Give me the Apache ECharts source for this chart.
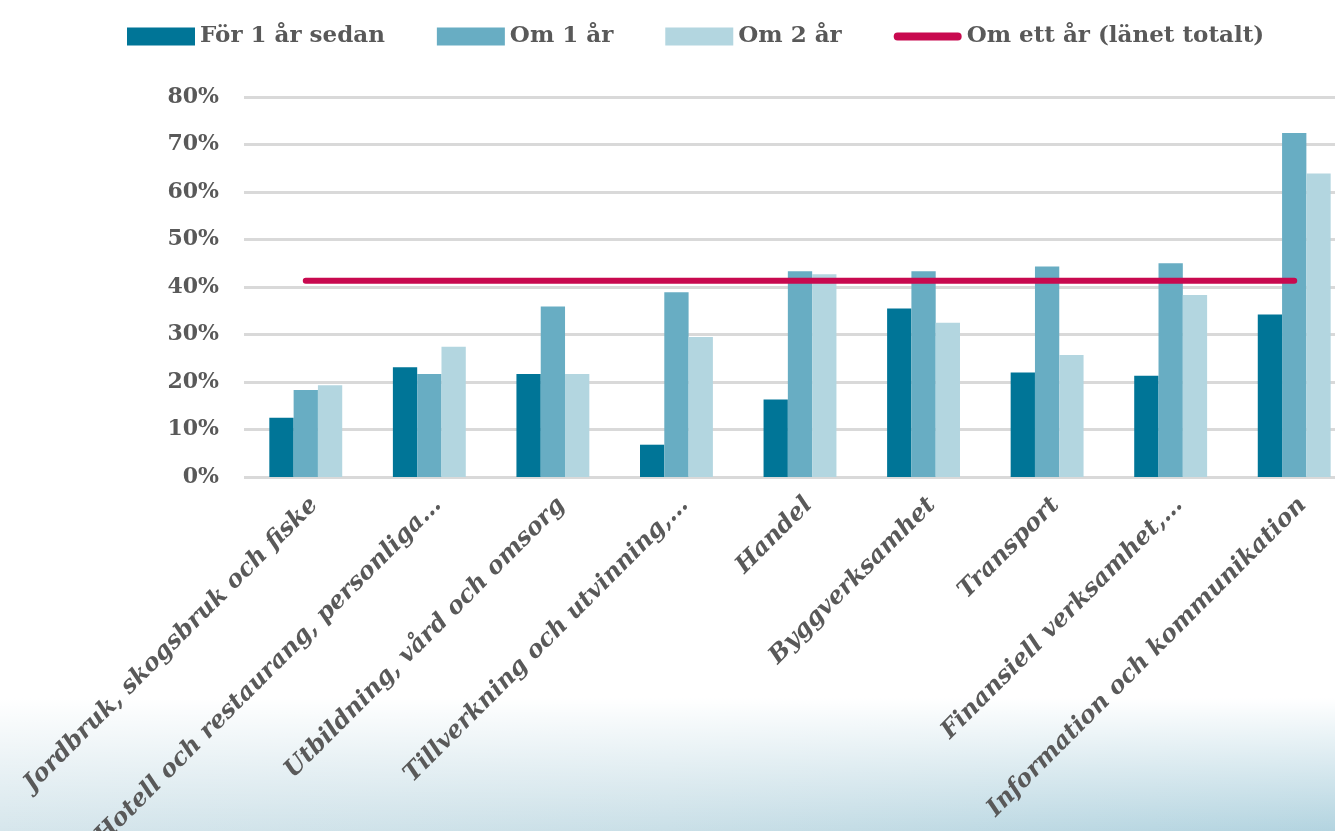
<!DOCTYPE html>
<html>
<head>
<meta charset="utf-8">
<script src="https://cdn.jsdelivr.net/npm/echarts@6/dist/echarts.min.js"></script>
<style>
  html, body { margin: 0; padding: 0; }
  body {
    width: 1335px; height: 831px;
    background:
      linear-gradient(to bottom, rgba(255,255,255,1) 0%, rgba(255,255,255,1) 84%, rgba(255,255,255,0) 100%),
      linear-gradient(to right, #d6e6ec 0%, #c9dfe7 50%, #b3d4e0 100%);
  }
  #main { width: 1335px; height: 831px; }
</style>
</head>
<body>
<div id="main"></div>
<script>
  // branscher
  var categories = [
    'Jordbruk, skogsbruk och fiske',
    'Hotell och restaurang, personliga…',
    'Utbildning, vård och omsorg',
    'Tillverkning och utvinning,…',
    'Handel',
    'Byggverksamhet',
    'Transport',
    'Finansiell verksamhet,…',
    'Information och kommunikation'
  ];
  var forEttArSedan = [12.5, 23.1, 21.7, 6.8, 16.3, 35.5, 22.0, 21.3, 34.2];
  var omEttAr = [18.3, 21.7, 35.9, 38.9, 43.3, 43.3, 44.3, 45.0, 72.4];
  var omTvaAr = [19.3, 27.4, 21.7, 29.5, 42.7, 32.5, 25.7, 38.3, 63.9];
  var lanetTotalt = [41.3, 41.3, 41.3, 41.3, 41.3, 41.3, 41.3, 41.3, 41.3];

  var colors = ['#007597', '#68adc3', '#b3d6e0', '#c8094f'];
  var grey = '#595959';
  var fontSerif = '"DejaVu Serif", "Liberation Serif", serif';

  var chart = echarts.init(document.getElementById('main'));
  var option = {
    backgroundColor: 'transparent',
    animation: false,
    legend: {
      left: 122,
      top: 20,
      itemWidth: 68,
      itemHeight: 18,
      itemGap: 52,
      textStyle: { color: grey, fontSize: 23, fontWeight: 'bold', fontFamily: fontSerif },
      data: [
        { name: 'För 1 år sedan', icon: 'rect' },
        { name: 'Om 1 år', icon: 'rect' },
        { name: 'Om 2 år', icon: 'rect' },
        { name: 'Om ett år (länet totalt)', icon: 'path://M4,0 L66,0 A4,4 0 0 1 66,8 L4,8 A4,4 0 0 1 4,0 Z' }
      ]
    },
    grid: {
      left: 244,
      top: 97,
      width: 1112,
      height: 380,
      containLabel: false,
      outerBoundsMode: 'none'
    },
    xAxis: {
      type: 'category',
      data: categories,
      axisLine: { show: false },
      axisTick: { show: false },
      axisLabel: {
        rotate: 45,
        interval: 0,
        margin: 16,
        verticalAlign: 'top',
        color: grey,
        fontSize: 24,
        fontWeight: 'bold',
        fontStyle: 'italic',
        fontFamily: fontSerif
      }
    },
    yAxis: {
      type: 'value',
      min: 0,
      max: 80,
      interval: 10,
      axisLine: { show: false },
      axisTick: { show: false },
      axisLabel: {
        formatter: '{value}%',
        margin: 25,
        color: grey,
        fontSize: 22,
        fontWeight: 'bold',
        fontFamily: fontSerif
      },
      splitLine: { lineStyle: { color: '#d9d9d9', width: 3 } }
    },
    series: [
      {
        name: 'För 1 år sedan', type: 'bar', data: forEttArSedan,
        barGap: '0%', barCategoryGap: '41%',
        itemStyle: { color: colors[0] }
      },
      {
        name: 'Om 1 år', type: 'bar', data: omEttAr,
        itemStyle: { color: colors[1] }
      },
      {
        name: 'Om 2 år', type: 'bar', data: omTvaAr,
        itemStyle: { color: colors[2] }
      },
      {
        name: 'Om ett år (länet totalt)', type: 'line', data: lanetTotalt,
        showSymbol: false,
        itemStyle: { color: colors[3] },
        lineStyle: { color: colors[3], width: 6, cap: 'round' },
        z: 5
      }
    ]
  };
  chart.setOption(option);
</script>
</body>
</html>
